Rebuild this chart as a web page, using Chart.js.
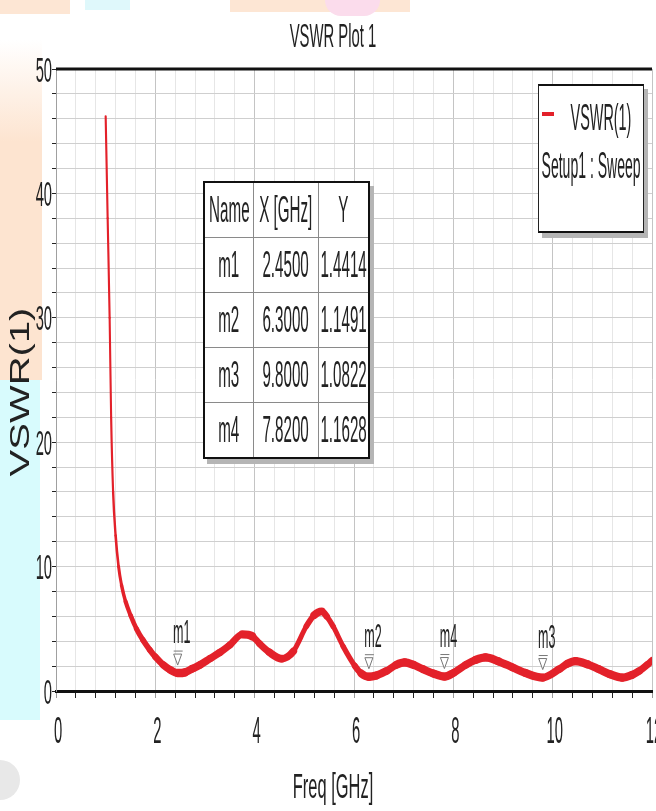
<!DOCTYPE html>
<html>
<head>
<meta charset="utf-8">
<script src="https://cdn.jsdelivr.net/npm/chart.js@4.4.1/dist/chart.umd.min.js"></script>
<style>
  body { margin: 0; background: #fff; }
  #wrap { position: relative; width: 656px; height: 811px; overflow: hidden; }
  .bg { position: absolute; }
  canvas { position: absolute; left: 0; top: 0; }
  .cell { display: flex; justify-content: center; align-items: center; overflow: visible;
          font-family: "Liberation Sans", Arial, sans-serif; color: #222; white-space: nowrap; }
  .sq { display: inline-block; flex: none; transform: scaleX(0.41); transform-origin: center; }
  #markers { position: absolute; left: 203px; top: 181px; border-collapse: collapse; table-layout: fixed;
             width: 163px; background: #fff; box-shadow: 4px 5px 0 #b5b5b5; border: 2px solid #111; }
  #markers td { border: 1px solid #8a8a8a; padding: 0; height: 54px; overflow: visible; }
  #markers .cell { font-size: 37px; height: 54px; width: 100%; }
  #legendBox { position: absolute; left: 538px; top: 84px; width: 104px; height: 145px; background: #fff;
               border: 1px solid #222; border-top: 2px solid #111; border-bottom: 2px solid #111;
               box-shadow: 4px 5px 0 #b5b5b5; }
  #legendBox .cell { position: absolute; font-size: 36px; height: 36px; }
</style>
</head>
<body>
<div id="wrap">
  <!-- faint watermark colours behind the chart -->
  <div class="bg" style="left:0;top:0;width:70px;height:14px;background:#fde6d4"></div>
  <div class="bg" style="left:85px;top:0;width:45px;height:10px;background:#dff8fb"></div>
  <div class="bg" style="left:230px;top:0;width:180px;height:12px;background:#fde6d4"></div>
  <div class="bg" style="left:325px;top:0;width:55px;height:16px;border-radius:0 0 30px 30px;background:#fbdcec"></div>
  <div class="bg" style="left:0;top:40px;width:42px;height:340px;background:linear-gradient(#fff,#fde4d0 30%,#fde4d0)"></div>
  <div class="bg" style="left:0;top:380px;width:40px;height:340px;background:#d8fbfd"></div>
  <div class="bg" style="left:-20px;top:760px;width:40px;height:40px;border-radius:20px;background:#e8e8e8"></div>

  <canvas id="vswrChart" width="656" height="811"></canvas>

  <table id="markers"></table>
  <div id="legendBox"></div>
</div>

<script>
// ====== Datos ======
const freqGHz = [1.00, 1.04, 1.08, 1.11, 1.15, 1.20, 1.26, 1.32, 1.40, 1.50, 1.62, 1.75, 1.89, 2.00,
  2.16, 2.30, 2.45, 2.60, 2.75, 2.90, 3.10, 3.30, 3.50, 3.75, 3.95, 4.10, 4.30, 4.54, 4.78, 5.04,
  5.20, 5.35, 5.45, 5.58, 5.78, 6.02, 6.15, 6.30, 6.45, 6.65, 6.85, 7.02, 7.20, 7.39, 7.60, 7.82,
  8.00, 8.25, 8.45, 8.65, 8.90, 9.19, 9.45, 9.80, 10.13, 10.30, 10.46, 10.70, 10.93, 11.15, 11.40,
  11.60, 11.74, 11.90, 12.00];
const vswr = [46.2, 38.0, 30.0, 22.0, 16.0, 12.5, 10.0, 8.5, 7.2, 6.1, 5.0, 4.1, 3.3, 2.75,
  2.1, 1.7, 1.44, 1.5, 1.8, 2.1, 2.6, 3.1, 3.7, 4.55, 4.4, 3.8, 3.1, 2.6, 3.2, 5.2,
  6.1, 6.4, 6.0, 5.2, 3.6, 2.0, 1.4, 1.15, 1.25, 1.6, 2.1, 2.3, 2.1, 1.75, 1.4, 1.16,
  1.45, 2.1, 2.5, 2.7, 2.4, 1.9, 1.45, 1.08, 1.75, 2.2, 2.4, 2.15, 1.75, 1.35, 1.08,
  1.3, 1.6, 2.1, 2.45];

const markerNames = ['m1', 'm2', 'm3', 'm4'];
const markerX = [2.45, 6.30, 9.80, 7.82];
const markerY = [1.4414, 1.1491, 1.0822, 1.1628];

const xTickStep = 0.4, xLabelStep = 2, xMax = 12;
const yTickStep = 2, yLabelStep = 10, yMax = 50;

const seriesLabel = 'VSWR(1)';
const sweepLabel = 'Setup1 : Sweep';
const RED = '#e3212a';
const FONT = '"Liberation Sans", Arial, sans-serif';

// ====== Tabla de marcadores ======
const table = document.getElementById('markers');
const colW = [48, 64, 49];
const cell = t => '<div class="cell"><span class="sq">' + t + '</span></div>';
let html = '<tr>' + ['Name', 'X [GHz]', 'Y'].map((h, i) => '<td style="width:' + colW[i] + 'px">' + cell(h) + '</td>').join('') + '</tr>';
markerNames.forEach((n, i) => {
  html += '<tr><td>' + cell(n) + '</td><td>' + cell(markerX[i].toFixed(4)) + '</td><td>' + cell(markerY[i].toFixed(4)) + '</td></tr>';
});
table.innerHTML = html;

// ====== Leyenda ======
document.getElementById('legendBox').innerHTML =
  '<div style="position:absolute;left:3px;top:26px;width:12px;height:4px;background:' + RED + '"></div>' +
  '<div class="cell" style="left:22px;top:14px;width:80px"><span class="sq" style="transform:scaleX(0.4)">' + seriesLabel + '</span></div>' +
  '<div class="cell" style="left:0;top:62px;width:104px"><span class="sq" style="transform:scaleX(0.39)">' + sweepLabel + '</span></div>';

// ====== Utilidades ======
function squeezed(ctx, str, x, y, size, sx, align) {
  ctx.save();
  ctx.translate(x, y);
  ctx.scale(sx, 1);
  ctx.font = size + 'px ' + FONT;
  ctx.textAlign = align;
  ctx.textBaseline = 'middle';
  ctx.fillStyle = '#222';
  ctx.fillText(str, 0, 0);
  ctx.restore();
}
const isMultiple = (v, step) => Math.abs(v / step - Math.round(v / step)) < 1e-6;

const decorPlugin = {
  id: 'decor',
  beforeDraw(chart) {
    const { ctx, chartArea: a } = chart;
    ctx.save();
    ctx.fillStyle = '#fff';
    ctx.fillRect(a.left, a.top, a.right - a.left, a.bottom - a.top);
    ctx.restore();
  },
  afterDraw(chart) {
    const { ctx, chartArea: a, scales } = chart;
    // top frame line
    ctx.save();
    ctx.strokeStyle = '#111';
    ctx.lineWidth = 3;
    ctx.beginPath();
    ctx.moveTo(a.left, a.top);
    ctx.lineTo(a.right, a.top);
    ctx.stroke();
    ctx.restore();

    // title and axis titles
    squeezed(ctx, 'VSWR Plot 1', 333, 38, 33, 0.45, 'center');
    squeezed(ctx, 'Freq [GHz]', 333, 788, 35, 0.47, 'center');
    ctx.save();
    ctx.translate(21, 392);
    ctx.rotate(-Math.PI / 2);
    ctx.scale(1, 0.68);
    ctx.font = '40px ' + FONT;
    ctx.textAlign = 'center';
    ctx.textBaseline = 'middle';
    ctx.fillStyle = '#222';
    ctx.fillText('VSWR(1)', 0, 0);
    ctx.restore();

    // tick labels
    scales.y.ticks.forEach(t => {
      if (isMultiple(t.value, yLabelStep)) {
        squeezed(ctx, String(t.value), 52, scales.y.getPixelForValue(t.value) + 3, 35, 0.42, 'right');
      }
    });
    scales.x.ticks.forEach(t => {
      if (isMultiple(t.value, xLabelStep)) {
        squeezed(ctx, String(Math.round(t.value)), scales.x.getPixelForValue(t.value) + 2, 733, 37, 0.4, 'center');
      }
    });

    // marker symbols and names
    markerNames.forEach((n, i) => {
      const px = scales.x.getPixelForValue(markerX[i]);
      const py = scales.y.getPixelForValue(markerY[i]);
      ctx.save();
      ctx.strokeStyle = '#777';
      ctx.lineWidth = 1;
      ctx.beginPath();
      ctx.moveTo(px - 4, py - 22);
      ctx.lineTo(px + 5, py - 22);
      ctx.stroke();
      ctx.beginPath();
      ctx.moveTo(px - 4, py - 19);
      ctx.lineTo(px + 4, py - 19);
      ctx.lineTo(px, py - 8);
      ctx.closePath();
      ctx.fillStyle = '#fff';
      ctx.fill();
      ctx.stroke();
      ctx.restore();
      squeezed(ctx, n, px + 4, py - 39, 33, 0.38, 'center');
    });
  }
};

// ====== Gráfica VSWR ======
const ctxVswr = document.getElementById('vswrChart').getContext('2d');
new Chart(ctxVswr, {
  type: 'line',
  data: {
    datasets: [{
      label: seriesLabel,
      data: freqGHz.map((f, i) => ({ x: f, y: vswr[i] })),
      borderColor: RED,
      borderWidth: 6,
      borderCapStyle: 'round',
      borderJoinStyle: 'round',
      pointRadius: 0,
      cubicInterpolationMode: 'monotone',
      segment: {
        // thinner where the trace is steep, like the stretched original
        borderWidth: c => {
          const dx = c.p1.x - c.p0.x, dy = c.p1.y - c.p0.y;
          const l = Math.hypot(dx, dy) || 1;
          return 2 + 6.5 * Math.abs(dx) / l;
        }
      }
    }]
  },
  options: {
    responsive: false,
    animation: false,
    layout: { padding: { top: 69, right: 4, left: 0, bottom: 0 } },
    plugins: { legend: { display: false }, title: { display: false }, tooltip: { enabled: false } },
    scales: {
      x: {
        type: 'linear', min: 0, max: xMax,
        ticks: { stepSize: xTickStep, display: false },
        grid: {
          color: c => isMultiple(c.tick.value, xLabelStep) ? '#c4c4c4' : '#e6e6e6',
          tickColor: c => isMultiple(c.tick.value, xLabelStep) ? '#999' : '#222',
          tickLength: 7
        },
        border: { color: '#111', width: 3 },
        afterFit: s => { s.height = 120; }
      },
      y: {
        type: 'linear', min: 0, max: yMax,
        ticks: { stepSize: yTickStep, display: false },
        grid: { color: '#cfcfcf', tickColor: '#222', tickLength: 4 },
        border: { color: '#a0a0a0', width: 1 },
        afterFit: s => { s.width = 56; }
      }
    }
  },
  plugins: [decorPlugin]
});
</script>
</body>
</html>
